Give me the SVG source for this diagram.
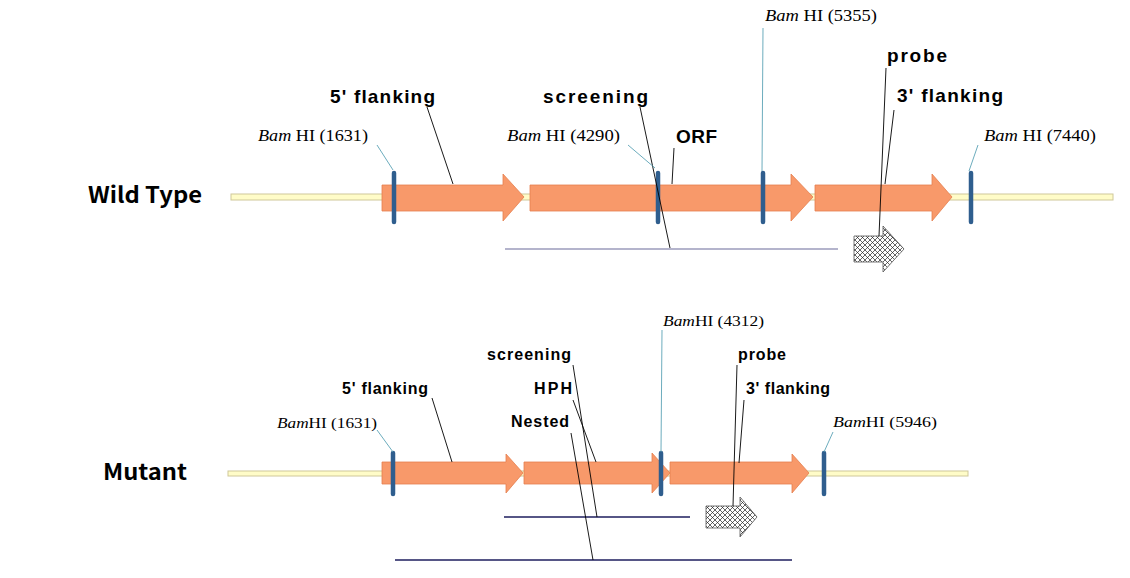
<svg xmlns="http://www.w3.org/2000/svg" width="1130" height="578" viewBox="0 0 1130 578">
<style>
.bb{fill:#FFFCC8;stroke:#CFC89A;stroke-width:1}
.ar{fill:#F8996A;stroke:#E57F4E;stroke-width:0.8}
.bar{stroke:#2F5E8E;stroke-width:4.5;stroke-linecap:round}
.pr{fill:url(#hatch);stroke:#555;stroke-width:0.8}
.ld{stroke:#000;stroke-width:0.9;fill:none}
.lb{stroke:#5BA3B5;stroke-width:0.9;fill:none}
.hl1{stroke:#6A6A9A;stroke-width:1.2}
.hl2{stroke:#1E1E5E;stroke-width:1.5}
.bam{font-family:"Liberation Serif",serif;fill:#000}
.lbl{font-family:"Liberation Sans",Arial,sans-serif;font-weight:bold;fill:#000}
.ttl{font-family:"Noto Sans CJK KR","Noto Sans",sans-serif;font-weight:bold;fill:#000}
</style>
<defs>
<pattern id="hatch" width="5" height="5" patternUnits="userSpaceOnUse">
<rect width="5" height="5" fill="#fff"/>
<path d="M0,0L5,5M5,0L0,5" stroke="#222" stroke-width="0.7"/>
</pattern>
</defs>
<rect width="1130" height="578" fill="#fff"/>

<!-- Wild type -->
<g id="wt-title"><text class="ttl" x="88" y="203" font-size="22" textLength="114" lengthAdjust="spacingAndGlyphs">Wild Type</text></g>
<g id="wt-backbone"><rect class="bb" x="231" y="194" width="882" height="6"/></g>
<g id="wt-5flank"><path class="ar" d="M382,185H503V174L524,197L503,221V211H382Z"/></g>
<g id="wt-orf"><path class="ar" d="M530,185H791V174L813,197L791,221V211H530Z"/></g>
<g id="wt-3flank"><path class="ar" d="M815,185H932V174L952,197L932,221V211H815Z"/></g>
<g id="wt-screen-line"><line class="hl1" x1="505" y1="249" x2="838" y2="249"/></g>
<g id="wt-probe"><path class="pr" d="M854,236H883V226L904,249L883,272V262H854Z"/></g>
<g id="wt-bam1631"><line class="bar" x1="394" y1="173" x2="394" y2="222"/></g>
<g id="wt-bam4290"><line class="bar" x1="658" y1="173" x2="658" y2="222"/></g>
<g id="wt-bam5355"><line class="bar" x1="763" y1="173" x2="763" y2="222"/></g>
<g id="wt-bam7440"><line class="bar" x1="971" y1="173" x2="971" y2="222"/></g>

<!-- Mutant -->
<g id="mt-title"><text class="ttl" x="103" y="480" font-size="22" textLength="84" lengthAdjust="spacingAndGlyphs">Mutant</text></g>
<g id="mt-backbone"><rect class="bb" x="228" y="471" width="740" height="5"/></g>
<g id="mt-5flank"><path class="ar" d="M382,462H506V454L523,473L506,493V484H382Z"/></g>
<g id="mt-hph"><path class="ar" d="M524,462H652V453L670,473L652,493V484H524Z"/></g>
<g id="mt-3flank"><path class="ar" d="M670,462H792V454L809,473L792,493V484H670Z"/></g>
<g id="mt-screen-line"><line class="hl2" x1="504" y1="517" x2="690" y2="517"/></g>
<g id="mt-nested-line"><line class="hl2" x1="395" y1="560" x2="792" y2="560"/></g>
<g id="mt-probe"><path class="pr" d="M706,506H740V497L757,517L740,537V528H706Z"/></g>
<g id="mt-bam1631"><line class="bar" x1="393" y1="453" x2="393" y2="494"/></g>
<g id="mt-bam4312"><line class="bar" x1="661" y1="453" x2="661" y2="494"/></g>
<g id="mt-bam5946"><line class="bar" x1="824" y1="453" x2="824" y2="494"/></g>

<!-- connectors -->
<g id="connectors">
<line class="lb" x1="377" y1="145" x2="393" y2="170"/>
<line class="ld" x1="427" y1="107" x2="453" y2="184"/>
<line class="ld" x1="640" y1="107" x2="670" y2="248"/>
<line class="lb" x1="628" y1="145" x2="655" y2="168"/>
<line class="ld" x1="674" y1="148" x2="672" y2="184"/>
<line class="lb" x1="763" y1="28" x2="762" y2="171"/>
<line class="ld" x1="886" y1="68" x2="879" y2="236"/>
<line class="ld" x1="894" y1="110" x2="885" y2="184"/>
<line class="lb" x1="978" y1="145" x2="969" y2="171"/>

<line class="lb" x1="377" y1="430" x2="393" y2="452"/>
<line class="ld" x1="432" y1="398" x2="452" y2="462"/>
<line class="ld" x1="573" y1="365" x2="597" y2="517"/>
<line class="ld" x1="573" y1="400" x2="596" y2="462"/>
<line class="ld" x1="571" y1="433" x2="593" y2="560"/>
<line class="lb" x1="662" y1="330" x2="661" y2="452"/>
<line class="ld" x1="737" y1="365" x2="733" y2="506"/>
<line class="ld" x1="744" y1="400" x2="739" y2="463"/>
<line class="lb" x1="833" y1="432" x2="824" y2="452"/>
</g>

<!-- labels -->
<g id="wt-labels">
<text class="bam" x="258" y="141" font-size="16" textLength="110" lengthAdjust="spacingAndGlyphs"><tspan font-style="italic">Bam</tspan> HI (1631)</text>
<text class="bam" x="507" y="141" font-size="16" textLength="113" lengthAdjust="spacingAndGlyphs"><tspan font-style="italic">Bam</tspan> HI (4290)</text>
<text class="bam" x="765" y="21" font-size="16" textLength="112" lengthAdjust="spacingAndGlyphs"><tspan font-style="italic">Bam</tspan> HI (5355)</text>
<text class="bam" x="984" y="141" font-size="16" textLength="112" lengthAdjust="spacingAndGlyphs"><tspan font-style="italic">Bam</tspan> HI (7440)</text>
<text class="lbl" x="330" y="103" font-size="19" textLength="105" lengthAdjust="spacing">5' flanking</text>
<text class="lbl" x="543" y="103" font-size="19" textLength="105" lengthAdjust="spacing">screening</text>
<text class="lbl" x="676" y="143" font-size="19" textLength="41" lengthAdjust="spacing">ORF</text>
<text class="lbl" x="887" y="62" font-size="19" textLength="60" lengthAdjust="spacing">probe</text>
<text class="lbl" x="897" y="102" font-size="19" textLength="106" lengthAdjust="spacing">3' flanking</text>
</g>
<g id="mt-labels">
<text class="bam" x="277" y="428" font-size="15" textLength="100" lengthAdjust="spacingAndGlyphs"><tspan font-style="italic">Bam</tspan>HI (1631)</text>
<text class="bam" x="663" y="326" font-size="15" textLength="101" lengthAdjust="spacingAndGlyphs"><tspan font-style="italic">Bam</tspan>HI (4312)</text>
<text class="bam" x="833" y="427" font-size="15" textLength="104" lengthAdjust="spacingAndGlyphs"><tspan font-style="italic">Bam</tspan>HI (5946)</text>
<text class="lbl" x="342" y="394" font-size="16" textLength="86" lengthAdjust="spacing">5' flanking</text>
<text class="lbl" x="487" y="360" font-size="16" textLength="84" lengthAdjust="spacing">screening</text>
<text class="lbl" x="534" y="394" font-size="16" textLength="38" lengthAdjust="spacing">HPH</text>
<text class="lbl" x="511" y="427" font-size="16" textLength="58" lengthAdjust="spacing">Nested</text>
<text class="lbl" x="738" y="360" font-size="16" textLength="48" lengthAdjust="spacing">probe</text>
<text class="lbl" x="746" y="394" font-size="16" textLength="84" lengthAdjust="spacing">3' flanking</text>
</g>
</svg>
